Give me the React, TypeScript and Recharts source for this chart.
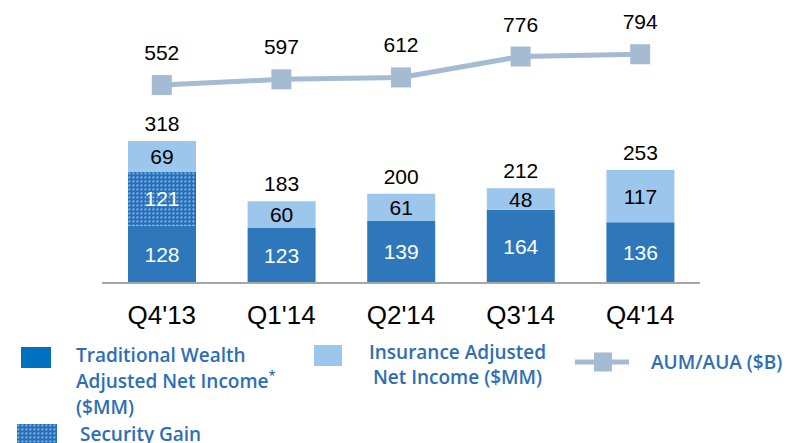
import React from 'react';
import { ComposedChart, Bar, Line, XAxis, YAxis, LabelList } from 'recharts';

const categories = ["Q4'13", "Q1'14", "Q2'14", "Q3'14", "Q4'14"];
const traditional = [128, 123, 139, 164, 136];
const securityGain = [121, 0, 0, 0, 0];
const insurance = [69, 60, 61, 48, 117];
const aum = [552, 597, 612, 776, 794];

const data = categories.map((c, i) => ({
  cat: c,
  trad: traditional[i],
  sec: securityGain[i],
  ins: insurance[i],
  aum: aum[i],
  total: traditional[i] + securityGain[i] + insurance[i],
}));

const NUM_FONT = '"Liberation Sans", Arial, sans-serif';
const LEG_FONT = '"Open Sans", "Noto Sans", sans-serif';
const DARK = '#2e77bb';
const LIGHT = '#9dc6ed';
const LINE = '#a5bad3';
const LEG_TEXT = '#2d6eb5';

const innerLabel = (color: string) => (props: any) => {
  const { x, y, width, height, value } = props;
  if (!value) return null;
  return (
    <text x={x + width / 2} y={y + height / 2 + 7.5} textAnchor="middle" fill={color}
      fontFamily={NUM_FONT} fontSize={21}>{value}</text>
  );
};

const totalLabel = (props: any) => {
  const { x, y, width, index } = props;
  return (
    <text x={x + width / 2} y={y - 10} textAnchor="middle" fill="#000"
      fontFamily={NUM_FONT} fontSize={21}>{data[index].total}</text>
  );
};

const lineLabel = (props: any) => {
  const { x, y, value } = props;
  return (
    <text x={x} y={y - 25} textAnchor="middle" fill="#000"
      fontFamily={NUM_FONT} fontSize={21}>{value}</text>
  );
};

const SquareDot = (props: any) => {
  const { cx, cy } = props;
  return <rect x={cx - 10} y={cy - 10} width={20} height={20} fill={LINE} />;
};

const CatTick = (props: any) => {
  const { x, y, payload } = props;
  return (
    <text x={x} y={y + 33} textAnchor="middle" fill="#000" fontFamily={NUM_FONT} fontSize={26}>
      {payload.value}
    </text>
  );
};

const PatternDefs = () => (
  <svg width={0} height={0} style={{ position: 'absolute' }}>
    <defs>
      <pattern id="dots" width={4} height={4} patternUnits="userSpaceOnUse">
        <rect x={0} y={0} width={4} height={4} fill="#2a70b8" />
        <rect x={0.5} y={0.5} width={1.8} height={1.8} fill="#8fbde9" />
      </pattern>
    </defs>
  </svg>
);

const legText: React.CSSProperties = {
  position: 'absolute', fontFamily: LEG_FONT, fontWeight: 600, fontSize: 19,
  lineHeight: '26px', color: LEG_TEXT, whiteSpace: 'nowrap',
};

export default function App() {
  return (
    <div style={{ position: 'absolute', left: 0, top: 0, width: 804, height: 443, background: '#fff', overflow: 'hidden' }}>
      <PatternDefs />
      <ComposedChart width={804} height={443} data={data}
        margin={{ top: 20, right: 104, bottom: 120, left: 102 }}>
        <XAxis dataKey="cat" height={40} tickLine={false}
          axisLine={{ stroke: '#a6a6a6', strokeWidth: 2 }} tick={<CatTick />} interval={0} />
        <YAxis yAxisId="bar" hide type="number" domain={[0, 589]} allowDataOverflow />
        <YAxis yAxisId="line" hide type="number" domain={[-1003, 1063]} allowDataOverflow />
        <Bar yAxisId="bar" dataKey="trad" stackId="a" fill={DARK} barSize={68} isAnimationActive={false}>
          <LabelList dataKey="trad" content={innerLabel('#fff')} />
        </Bar>
        <Bar yAxisId="bar" dataKey="sec" stackId="a" fill="url(#dots)" barSize={68} isAnimationActive={false}>
          <LabelList dataKey="sec" content={innerLabel('#fff')} />
        </Bar>
        <Bar yAxisId="bar" dataKey="ins" stackId="a" fill={LIGHT} barSize={68} isAnimationActive={false}>
          <LabelList dataKey="ins" content={innerLabel('#000')} />
          <LabelList dataKey="total" content={totalLabel} />
        </Bar>
        <Line yAxisId="line" dataKey="aum" stroke={LINE} strokeWidth={5} dot={<SquareDot />}
          activeDot={false} isAnimationActive={false}>
          <LabelList dataKey="aum" content={lineLabel} />
        </Line>
      </ComposedChart>

      {/* Legend */}
      <div style={{ position: 'absolute', left: 21, top: 347, width: 30, height: 21, background: '#0070c0' }} />
      <div style={{ ...legText, left: 76, top: 342 }}>
        Traditional Wealth<br />Adjusted Net Income<sup style={{ fontSize: 13, verticalAlign: 'top', lineHeight: '14px' }}>*</sup><br />($MM)
      </div>
      <svg style={{ position: 'absolute', left: 17, top: 424 }} width={40} height={19}>
        <rect x={0} y={0} width={40} height={19} fill="url(#dots)" />
      </svg>
      <div style={{ ...legText, left: 80, top: 421 }}>
        Security Gain
      </div>

      <div style={{ position: 'absolute', left: 314, top: 345, width: 28, height: 21, background: LIGHT }} />
      <div style={{ ...legText, left: 355, top: 340, width: 205, textAlign: 'center', lineHeight: '25px' }}>
        Insurance Adjusted<br />Net Income ($MM)
      </div>

      <svg style={{ position: 'absolute', left: 575, top: 351 }} width={54} height={22}>
        <line x1={0} y1={11} x2={54} y2={11} stroke={LINE} strokeWidth={5} />
        <rect x={19} y={1.5} width={18} height={19} fill={LINE} />
      </svg>
      <div style={{ ...legText, left: 651, top: 349 }}>
        AUM/AUA ($B)
      </div>
    </div>
  );
}
